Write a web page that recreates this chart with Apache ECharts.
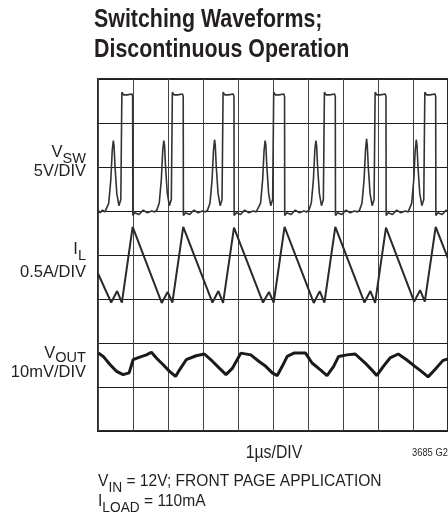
<!DOCTYPE html>
<html>
<head>
<meta charset="utf-8">
<script src="https://cdn.jsdelivr.net/npm/echarts@6/dist/echarts.min.js"></script>
<style>
  html, body { margin: 0; padding: 0; background: #fff; }
  #chart { width: 448px; height: 514px; }
</style>
</head>
<body>
<div id="chart"></div>
<script>
// scope trace, 1us/DIV, 10 divisions across
const timeTicks = [0, 1, 2, 3, 4, 5, 6, 7, 8, 9, 10];

// V_SW in volts (5V/DIV), [time us, volts]
const vswTrace = [
  [0, 0.1], [0.06, -0.2], [0.13, 0.1], [0.2, -0.1],
  [0.237, 0.1], [0.307, 0.9], [0.367, 3.6], [0.407, 6.9], [0.437, 8.0], [0.457, 7.5], [0.487, 5.0], [0.537, 2.0], [0.597, 0.6], [0.652, 1.3],
  [0.682, 13.5], [0.73, 13.2], [0.83, 13.2], [0.97, 13.3], [0.99, 13.0], [0.995, -0.5], [1.05, -0.2], [1.17, -0.4], [1.29, 0.1], [1.41, -0.2], [1.53, 0.0], [1.62, -0.1],
  [1.68, 0.1], [1.75, 0.9], [1.81, 3.6], [1.85, 6.9], [1.88, 8.0], [1.90, 7.5], [1.93, 5.0], [1.98, 2.0], [2.04, 0.6], [2.095, 1.3],
  [2.125, 13.5], [2.175, 13.2], [2.275, 13.2], [2.415, 13.3], [2.435, 13.0], [2.44, -0.5], [2.5, -0.2], [2.62, -0.4], [2.74, 0.1], [2.86, -0.2], [2.98, 0.0], [3.07, -0.1],
  [3.13, 0.1], [3.20, 0.9], [3.26, 3.6], [3.30, 6.9], [3.33, 8.1], [3.35, 7.5], [3.38, 5.0], [3.43, 2.0], [3.49, 0.6], [3.544, 1.3],
  [3.574, 13.5], [3.624, 13.2], [3.724, 13.2], [3.865, 13.3], [3.885, 13.0], [3.89, -0.5], [3.95, -0.2], [4.07, -0.4], [4.19, 0.1], [4.31, -0.2], [4.43, 0.0], [4.52, -0.1],
  [4.575, 0.1], [4.645, 0.9], [4.705, 3.6], [4.745, 6.9], [4.775, 8.0], [4.795, 7.5], [4.825, 5.0], [4.875, 2.0], [4.935, 0.6], [4.99, 1.3],
  [5.02, 13.5], [5.07, 13.2], [5.17, 13.2], [5.31, 13.3], [5.33, 13.0], [5.335, -0.5], [5.395, -0.2], [5.515, -0.4], [5.635, 0.1], [5.755, -0.2], [5.875, 0.0], [5.965, -0.1],
  [6.025, 0.1], [6.095, 0.9], [6.155, 3.6], [6.195, 6.9], [6.225, 8.0], [6.245, 7.5], [6.275, 5.0], [6.325, 2.0], [6.385, 0.6], [6.439, 1.3],
  [6.469, 13.5], [6.519, 13.2], [6.619, 13.2], [6.76, 13.3], [6.78, 13.0], [6.785, -0.5], [6.845, -0.2], [6.965, -0.4], [7.085, 0.1], [7.205, -0.2], [7.325, 0.0], [7.415, -0.1],
  [7.473, 0.1], [7.543, 0.9], [7.603, 3.6], [7.643, 6.9], [7.673, 8.2], [7.693, 7.5], [7.723, 5.0], [7.773, 2.0], [7.833, 0.6], [7.888, 1.3],
  [7.918, 13.5], [7.968, 13.2], [8.068, 13.2], [8.208, 13.3], [8.228, 13.0], [8.233, -0.5], [8.293, -0.2], [8.413, -0.4], [8.533, 0.1], [8.653, -0.2], [8.773, 0.0], [8.863, -0.1],
  [8.893, 0.1], [8.963, 0.9], [9.023, 3.6], [9.063, 6.9], [9.093, 8.1], [9.113, 7.5], [9.143, 5.0], [9.193, 2.0], [9.253, 0.6], [9.308, 1.3],
  [9.338, 13.5], [9.388, 13.2], [9.488, 13.2], [9.628, 13.3], [9.648, 13.0], [9.653, -0.5], [9.713, -0.2], [9.833, -0.4], [9.95, 0.1], [10, 0.0]
];

// I_L in amps (0.5A/DIV)
const ilTrace = [
  [0, 0.29], [0.377, -0.04], [0.547, 0.09], [0.682, -0.04], [0.99, 0.82],
  [1.82, -0.045], [1.99, 0.08], [2.125, -0.04], [2.435, 0.82],
  [3.27, -0.04], [3.44, 0.09], [3.574, -0.045], [3.885, 0.81],
  [4.715, -0.04], [4.885, 0.08], [5.02, -0.04], [5.33, 0.82],
  [6.165, -0.045], [6.335, 0.09], [6.469, -0.04], [6.78, 0.82],
  [7.613, -0.04], [7.783, 0.09], [7.918, -0.045], [8.228, 0.81],
  [9.033, -0.03], [9.203, 0.1], [9.338, -0.03], [9.648, 0.82], [10, 0.46]
];

// V_OUT ripple in mV (10mV/DIV, AC coupled)
const voutTrace = [
  [0.009, 2.7], [0.15, 1.95], [0.341, 0.1], [0.531, -1.45], [0.719, -2.2], [0.889, -1.8],
  [1.003, 1.2], [1.193, 1.8], [1.384, 2.3], [1.526, 2.9], [1.668, 1.6], [1.855, 0.1],
  [2.045, -1.45], [2.216, -2.6], [2.33, -1.1], [2.52, 1.2], [2.804, 2.1], [3.04, 2.5],
  [3.276, 0.8], [3.466, -0.7], [3.656, -2.2], [3.844, -0.7], [4.082, 2.7], [4.366, 2.3],
  [4.602, 0.8], [4.793, -0.3], [4.98, -1.8], [5.122, -2.4], [5.264, -0.3], [5.406, 1.95],
  [5.597, 2.7], [5.929, 2.7], [6.116, 0.45], [6.355, -1.1], [6.543, -2.4], [6.733, -0.3],
  [6.875, 1.95], [7.111, 2.3], [7.349, 2.5], [7.634, 0.45], [7.821, -1.1], [7.963, -2.4],
  [8.153, -0.3], [8.344, 1.6], [8.58, 2.5], [8.815, 1.2], [9.054, -0.3], [9.241, -1.45],
  [9.432, -2.7], [9.622, -1.1], [9.858, 1.05], [10, 1.4]
];

const INK = '#231f20';
const SANS = '"Liberation Sans", Arial, sans-serif';

const myChart = echarts.init(document.getElementById('chart'), null, { renderer: 'canvas' });

// condensed look: regular sans squeezed sideways
function subText(x, y, parts, align, sx, drop) {
  return {
    type: 'text', x: x, y: y, scaleX: sx, silent: true,
    style: {
      text: parts, align: align, textAlign: align, verticalAlign: 'top', textVerticalAlign: 'top',
      rich: {
        m: { font: '17px ' + SANS, lineHeight: 20, verticalAlign: 'top', fill: INK },
        s: { font: '15px ' + SANS, lineHeight: 15, padding: [drop, 0, 0, 0], verticalAlign: 'top', fill: INK }
      }
    }
  };
}
function plainText(x, y, text, size, align, sx) {
  return {
    type: 'text', x: x, y: y, scaleX: sx, silent: true,
    style: {
      text: text, font: size + 'px ' + SANS,
      lineHeight: Math.round(size * 1.2), align: align, textAlign: align,
      verticalAlign: 'top', textVerticalAlign: 'top', fill: INK
    }
  };
}

const option = {
  animation: false,
  backgroundColor: '#fff',
  grid: {
    left: 98, top: 79, width: 352, height: 352,
    show: true, borderColor: '#2a2a2a', borderWidth: 2, backgroundColor: 'transparent'
  },
  xAxis: {
    type: 'value', min: timeTicks[0], max: timeTicks[timeTicks.length - 1], interval: 1,
    axisLine: { show: false }, axisTick: { show: false }, axisLabel: { show: false },
    splitLine: { show: true, lineStyle: { color: '#444', width: 1 } }
  },
  yAxis: [
    { // V_SW, 5V/DIV
      type: 'value', min: -25, max: 15, interval: 5,
      axisLine: { show: false }, axisTick: { show: false }, axisLabel: { show: false },
      splitLine: { show: true, lineStyle: { color: '#1e1e1e', width: 1 } }
    },
    { type: 'value', min: -1.5, max: 2.5, show: false, splitLine: { show: false } },
    { type: 'value', min: -15, max: 65, show: false, splitLine: { show: false } }
  ],
  series: [
    {
      name: 'VSW', type: 'line', yAxisIndex: 0, data: vswTrace, symbol: 'none',
      lineStyle: { color: '#333', width: 1.6 }
    },
    {
      name: 'IL', type: 'line', yAxisIndex: 1, data: ilTrace, symbol: 'none',
      lineStyle: { color: '#2a2a2a', width: 2 }
    },
    {
      name: 'VOUT', type: 'line', yAxisIndex: 2, data: voutTrace, symbol: 'none',
      lineStyle: { color: '#1a1a1a', width: 3 }
    }
  ],
  graphic: [
    {
      type: 'text', x: 94, y: 5, scaleX: 0.855, silent: true,
      style: {
        text: 'Switching Waveforms;\nDiscontinuous Operation',
        font: 'bold 25px ' + SANS, lineHeight: 30, fill: INK,
        align: 'left', textAlign: 'left', verticalAlign: 'top', textVerticalAlign: 'top'
      }
    },
    subText(86, 144, '{m|V}{s|SW}', 'right', 0.97, 7),
    plainText(86, 161, '5V/DIV', 17, 'right', 0.97),
    subText(86, 241, '{m|I}{s|L}', 'right', 0.97, 7),
    plainText(86, 262, '0.5A/DIV', 17, 'right', 0.97),
    subText(86, 345, '{m|V}{s|OUT}', 'right', 0.97, 5),
    plainText(86, 362, '10mV/DIV', 17, 'right', 0.97),
    plainText(274, 442, '1\u00b5s/DIV', 18, 'center', 0.88),
    plainText(412, 446, '3685 G21', 11, 'left', 0.85),
    subText(98, 473, '{m|V}{s|IN}{m| = 12V; FRONT PAGE APPLICATION}', 'left', 0.915, 7),
    subText(98, 493, '{m|I}{s|LOAD}{m| = 110mA}', 'left', 0.915, 7)
  ]
};

myChart.setOption(option);
</script>
</body>
</html>
